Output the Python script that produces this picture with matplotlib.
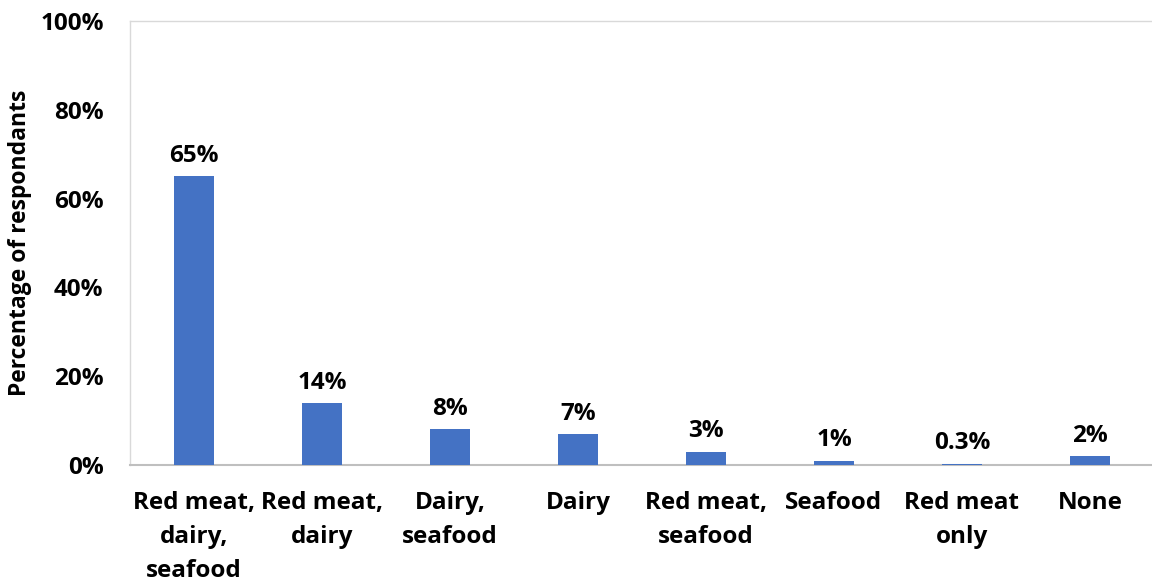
import matplotlib.pyplot as plt
from matplotlib.ticker import FuncFormatter

categories = ["Red meat,\ndairy,\nseafood", "Red meat,\ndairy", "Dairy,\nseafood", "Dairy",
              "Red meat,\nseafood", "Seafood", "Red meat\nonly", "None"]
values = [65, 14, 8, 7, 3, 1, 0.3, 2]
value_labels = ["65%", "14%", "8%", "7%", "3%", "1%", "0.3%", "2%"]

plt.rcParams['font.family'] = ['Open Sans', 'DejaVu Sans']
plt.rcParams['font.weight'] = 'bold'
FS = 17.5

fig = plt.figure(figsize=(11.52, 5.86), dpi=100)
ax = fig.add_axes([130 / 1152, 1 - 465 / 586, 1024 / 1152, 444 / 586])

x = range(len(categories))
ax.bar(x, values, width=0.31, color="#4472C4", zorder=3)
for i, (v, lab) in enumerate(zip(values, value_labels)):
    ax.annotate(lab, (i, v), xytext=(0, 6), textcoords="offset points",
                ha="center", va="bottom", fontsize=FS, fontweight="bold")

ax.set_xlim(-0.5, len(categories) - 0.5)
ax.set_ylim(0, 100)
ax.set_yticks(range(0, 101, 20))
ax.yaxis.set_major_formatter(FuncFormatter(lambda v, p: f"{v:.0f}%"))
ax.set_xticks(list(x))
ax.set_xticklabels(categories, fontsize=FS, fontweight="bold", linespacing=1.55)
for t in ax.get_yticklabels():
    t.set_fontweight("bold")
ax.tick_params(axis="y", length=0, pad=19, labelsize=FS)
ax.tick_params(axis="x", length=0, pad=19)

for s in ax.spines.values():
    s.set_color("#D9D9D9")
    s.set_linewidth(1)
ax.spines["bottom"].set_color("#BFBFBF")
ax.spines["bottom"].set_linewidth(1.5)

ax.set_ylabel("Percentage of respondants", fontsize=16.5, fontweight="bold")
ax.yaxis.label.set_va("center")
ax.yaxis.set_label_coords(-110 / 1024, 0.5)

fig.savefig("out.png", dpi=100)
